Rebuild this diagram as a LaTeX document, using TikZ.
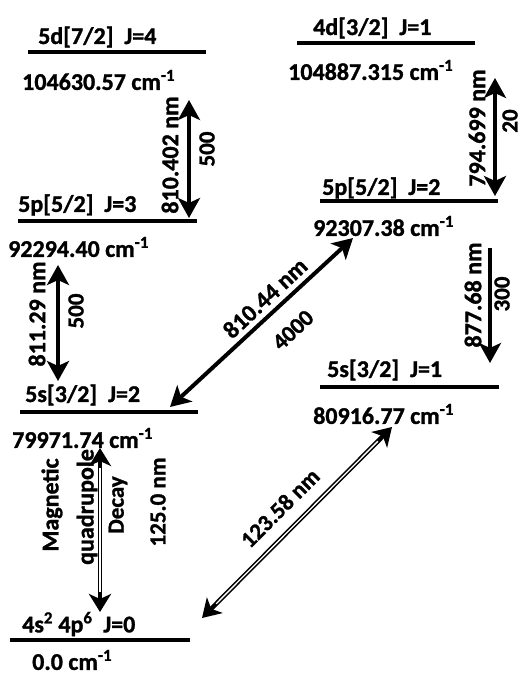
\documentclass[tikz,border=0pt]{standalone}
\usepackage{fontspec}
\setmainfont{Carlito}[BoldFeatures={FakeBold=1.2}]
\usetikzlibrary{arrows.meta}

\tikzset{
  levline/.style={line width=4.5pt},
  trans/.style={line width=4pt, {Stealth[length=20pt,width=22pt,inset=5pt]}-{Stealth[length=20pt,width=22pt,inset=5pt]}},
  decay/.style={line width=4pt, -{Stealth[length=20pt,width=22pt,inset=5pt]}},
  weak/.style={line width=4.5pt, {Stealth[length=18pt,width=22pt,inset=5pt]}-{Stealth[length=18pt,width=22pt,inset=5pt]}},
  weakcore/.style={line width=1.3pt, white, shorten <=20pt, shorten >=20pt},
  lvname/.style={font=\bfseries\fontsize{24}{26}\selectfont, inner sep=0pt, anchor=west},
  wl/.style={font=\bfseries\fontsize{24}{26}\selectfont, inner sep=0pt},
  rate/.style={font=\bfseries\fontsize{23}{25}\selectfont, inner sep=0pt},
}

\begin{document}
\begin{tikzpicture}[x=1pt, y=-1pt]
    \useasboundingbox (0,0) rectangle (523,675);

    % Levels
    \draw[levline] (28,52) coordinate (d4L) -- (206,52) coordinate (d4R);
    \draw[levline] (297,43) coordinate (d1L) -- (475,43) coordinate (d1R);
    \draw[levline] (18,221) coordinate (p3L) -- (197,221) coordinate (p3R);
    \draw[levline] (320,201) coordinate (p2L) -- (498,201) coordinate (p2R);
    \draw[levline] (20,412) coordinate (s2L) -- (198,412) coordinate (s2R);
    \draw[levline] (320,387) coordinate (s1L) -- (499,387) coordinate (s1R);
    \draw[levline] (10,640) coordinate (gL) -- (190,640) coordinate (gR);

    % Level names
    \node[lvname] (d4name) at (38,37) {5d[7/2]\ \ J=4};
    \node[lvname] (d1name) at (313,28) {4d[3/2]\ \ J=1};
    \node[lvname] (p3name) at (18,205) {5p[5/2]\ \ J=3};
    \node[lvname] (p2name) at (322,188) {5p[5/2]\ \ J=2};
    \node[lvname] (s2name) at (25,395) {5s[3/2]\ \ J=2};
    \node[lvname] (s1name) at (327,370) {5s[3/2]\ \ J=1};
    \node[lvname] (gname) at (22,624) {4s\textsuperscript{2} 4p\textsuperscript{6}\ \ J=0};

    % Energies
    \node[lvname] (d4en) at (22,80) {104630.57 cm\textsuperscript{-1}};
    \node[lvname] (d1en) at (288,70) {104887.315 cm\textsuperscript{-1}};
    \node[lvname] (p3en) at (8,247) {92294.40 cm\textsuperscript{-1}};
    \node[lvname] (p2en) at (313,226) {92307.38 cm\textsuperscript{-1}};
    \node[lvname] (s2en) at (12,438) {79971.74 cm\textsuperscript{-1}};
    \node[lvname] (s1en) at (313,414) {80916.77 cm\textsuperscript{-1}};
    \node[lvname] (gen) at (32,660) {0.0 cm\textsuperscript{-1}};

    % Transition ends
    \coordinate (t1a) at (189,100);  \coordinate (t1b) at (189,218);
    \coordinate (t2a) at (495,78);   \coordinate (t2b) at (495,196);
    \coordinate (t3a) at (58,265);   \coordinate (t3b) at (58,381);
    \coordinate (t4a) at (490,248);  \coordinate (t4b) at (490,363);
    \coordinate (t5a) at (170,407);  \coordinate (t5b) at (353,238);
    \coordinate (t6a) at (100,448);  \coordinate (t6b) at (100,612);
    \coordinate (t7a) at (202,618);  \coordinate (t7b) at (392,427);

    % Transitions
    \draw[trans] (t1a) -- (t1b);
    \draw[trans] (t2a) -- (t2b);
    \draw[trans] (t3a) -- (t3b);
    \draw[decay] (t4a) -- (t4b);
    \draw[trans] (t5a) -- (t5b);
    \draw[weak] (t6a) -- (t6b);
    \draw[weakcore] (t6a) -- (t6b);
    \draw[weak] (t7a) -- (t7b);
    \draw[weakcore] (t7a) -- (t7b);

    % Wavelengths and rates
    \node[wl, rotate=90] (t1wl) at (170,155) {810.402 nm};
    \node[rate, rotate=90] (t1r) at (207,149) {500};
    \node[wl, rotate=90] (t2wl) at (477,128) {794.699 nm};
    \node[rate, rotate=90] (t2r) at (510,121) {20};
    \node[wl, rotate=90] (t3wl) at (37,314) {811.29 nm};
    \node[rate, rotate=90] (t3r) at (76,311) {500};
    \node[wl, rotate=90] (t4wl) at (473,295) {877.68 nm};
    \node[rate, rotate=90] (t4r) at (502,294) {300};
    \node[wl, rotate=43] (t5wl) at (265,298) {810.44 nm};
    \node[rate, rotate=43] (t5r) at (293,330) {4000};
    \node[wl, rotate=90] (t6a1) at (52,505) {Magnetic};
    \node[wl, rotate=90] (t6a2) at (87,507) {quadrupole};
    \node[rate, rotate=90] (t6a3) at (118,505) {Decay};
    \node[rate, rotate=90] (t6wl) at (158,502) {125.0 nm};
    \node[rate, rotate=45] (t7wl) at (280,508) {123.58 nm};
\end{tikzpicture}
\end{document}
